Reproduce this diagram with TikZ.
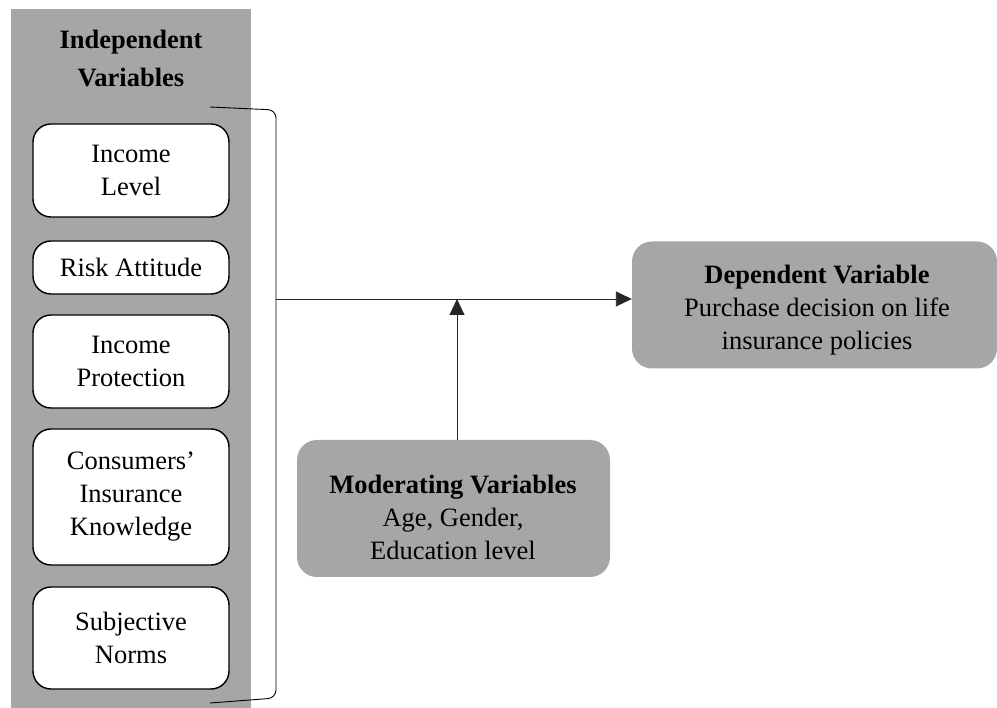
\documentclass[tikz,border=0pt]{standalone}
\usepackage{fontspec}
\setmainfont{Liberation Serif}
\usetikzlibrary{arrows.meta}
\definecolor{panelgray}{HTML}{A6A6A6}
\tikzset{
  txt/.style={font=\fontsize{26.5}{33}\selectfont, align=center, inner sep=0pt},
  varbox/.style={draw=black, line width=1.4pt, fill=white, rounded corners=18pt, inner sep=0pt, minimum width=196pt},
  graybox/.style={fill=panelgray, draw=none, rounded corners=20pt, inner sep=0pt},
  conn/.style={draw=black!85, line width=0.9pt},
  arr/.style={conn, -{Triangle[length=16pt,width=15pt]}}
}
\begin{document}
\begin{tikzpicture}[x=1pt,y=-1pt]
\useasboundingbox (0,0) rectangle (997,708);
% independent variables panel
\node[fill=panelgray, inner sep=0pt, minimum width=240pt, minimum height=699pt, anchor=north west] (iv) at (11,9) {};
\node[txt, font=\fontsize{26.5}{38}\selectfont\bfseries] (ivt) at (131,59) {Independent\\Variables};
\node[varbox, minimum height=93pt] (b1) at (131,170.5) {};
\node[txt] at (b1) {Income\\Level};
\node[varbox, minimum height=53pt] (b2) at (131,267.5) {};
\node[txt] at (b2) {Risk Attitude};
\node[varbox, minimum height=93pt] (b3) at (131,361.5) {};
\node[txt] at (b3) {Income\\Protection};
\node[varbox, minimum height=136pt] (b4) at (131,497) {};
\node[txt] at (b4) {Consumers’\\Insurance\\Knowledge};
\node[varbox, minimum height=102pt] (b5) at (131,638) {};
\node[txt] at (b5) {Subjective\\Norms};
% bracket
\coordinate (bt) at (210,107);
\coordinate (bb) at (210,703);
\coordinate (brk) at (276,299);
\draw[black, line width=0.9pt, rounded corners=8pt] (bt) -- (276,110) -- (276,698) -- (bb);
% dependent variable
\node[graybox, minimum width=365pt, minimum height=127pt] (dep) at (814.5,305) {};
\node[txt] at (817,310) {\textbf{Dependent Variable}\\Purchase decision on life\\insurance policies};
% moderating variables
\node[graybox, minimum width=313pt, minimum height=137pt] (mod) at (453.5,508.5) {};
\node[txt] at (453,517) {\textbf{Moderating Variables}\\Age, Gender,\\Education level};
% connectors
\coordinate (join) at (457,299);
\draw[arr] (brk) -- (dep.west |- brk);
\draw[arr] (mod.north -| join) -- (join);
\end{tikzpicture}
\end{document}
